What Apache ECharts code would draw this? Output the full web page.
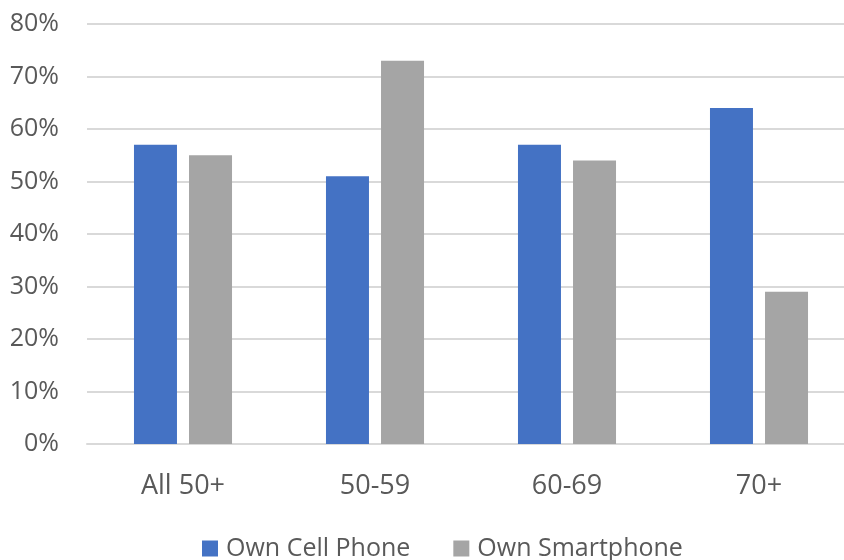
<!DOCTYPE html>
<html>
<head>
<meta charset="utf-8">
<style>
  html, body { margin: 0; padding: 0; background: #ffffff; }
  #chart { width: 844px; height: 560px; }
</style>
<script src="https://cdn.jsdelivr.net/npm/echarts@6/dist/echarts.min.js"></script>
</head>
<body>
<div id="chart"></div>
<script>
// Age groups and ownership shares (percent)
const categories = ['All 50+', '50-59', '60-69', '70+'];
const cellPhone = [57, 51, 57, 64];
const smartphone = [55, 73, 54, 29];
const seriesNames = ['Own Cell Phone', 'Own Smartphone'];

const FONT = '"Open Sans", "Noto Sans", sans-serif';
const TEXT = '#595959';

const chart = echarts.init(document.getElementById('chart'), null, { renderer: 'canvas' });
chart.setOption({
  animation: false,
  backgroundColor: '#ffffff',
  // plot area runs slightly past the right edge of the canvas
  grid: { left: 87, top: 24, width: 768, height: 420, containLabel: false, outerBoundsMode: 'none' },
  legend: {
    left: 197,
    top: 531,
    itemWidth: 16,
    itemHeight: 16,
    itemGap: 43,
    icon: 'rect',
    textStyle: { fontFamily: FONT, fontSize: 25, color: TEXT, padding: [0, 0, 0, 3] },
    data: seriesNames
  },
  xAxis: {
    type: 'category',
    data: categories,
    axisLine: { show: true, lineStyle: { color: '#d9d9d9', width: 2 } },
    axisTick: { show: false },
    axisLabel: { fontFamily: FONT, fontSize: 27, color: TEXT, margin: 29 }
  },
  yAxis: {
    type: 'value',
    min: 0,
    max: 80,
    interval: 10,
    axisLine: { show: false },
    axisTick: { show: false },
    axisLabel: { fontFamily: FONT, fontSize: 25, color: TEXT, margin: 28, formatter: '{value}%' },
    splitLine: { lineStyle: { color: '#d9d9d9', width: 2 } }
  },
  series: [
    {
      name: seriesNames[0],
      type: 'bar',
      data: cellPhone,
      barWidth: 43,
      barGap: '28%',
      itemStyle: { color: '#4472c4' }
    },
    {
      name: seriesNames[1],
      type: 'bar',
      data: smartphone,
      barWidth: 43,
      barGap: '28%',
      itemStyle: { color: '#a5a5a5' }
    }
  ]
});
</script>
</body>
</html>
